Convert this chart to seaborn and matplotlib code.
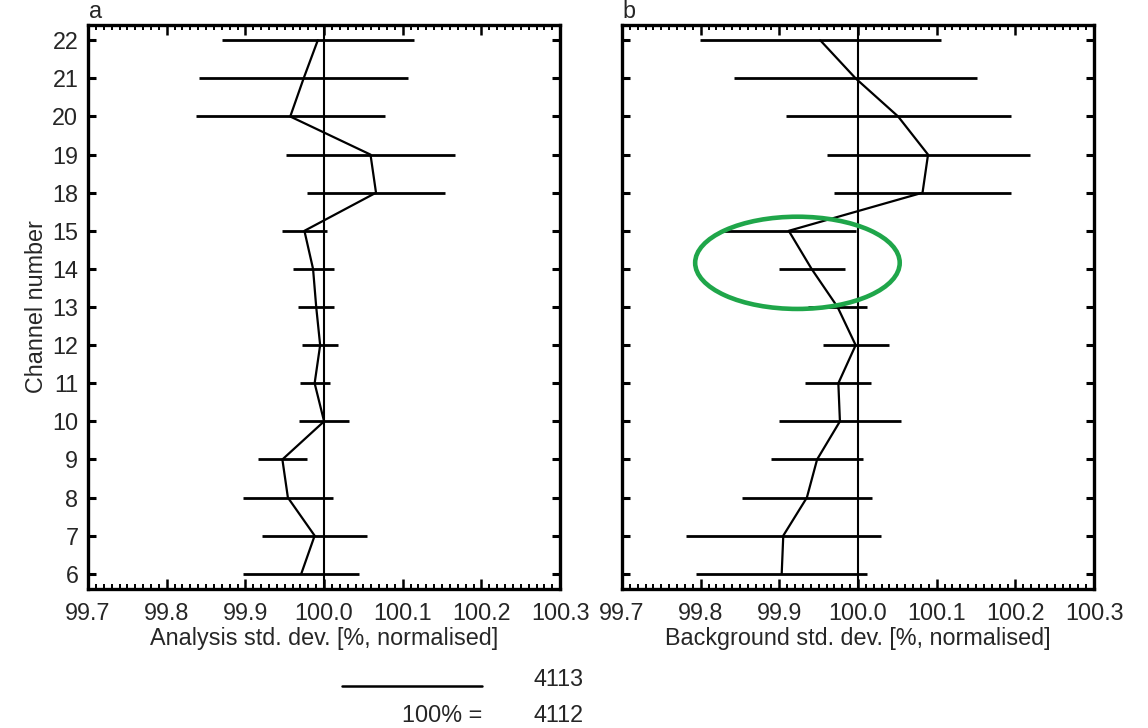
"""Normalised analysis / background std. dev. per channel, two panels."""

import matplotlib

matplotlib.use("Agg")
import matplotlib.pyplot as plt
from matplotlib.lines import Line2D
from matplotlib.patches import Ellipse
from matplotlib.ticker import MultipleLocator
import numpy as np
import pandas as pd
import seaborn as sns

channels = [6, 7, 8, 9, 10, 11, 12, 13, 14, 15, 18, 19, 20, 21, 22]

analysis_mean = [99.971, 99.988, 99.954, 99.947, 100.000, 99.988, 99.995, 99.990,
                 99.986, 99.975, 100.066, 100.059, 99.957, 99.974, 99.992]
analysis_err = [0.074, 0.067, 0.057, 0.031, 0.032, 0.019, 0.023, 0.023,
                0.026, 0.029, 0.088, 0.107, 0.120, 0.133, 0.122]

background_mean = [99.903, 99.905, 99.935, 99.948, 99.977, 99.975, 99.997, 99.974,
                   99.941, 99.912, 100.082, 100.089, 100.051, 99.997, 99.952]
background_err = [0.109, 0.124, 0.083, 0.058, 0.077, 0.042, 0.042, 0.037,
                  0.042, 0.085, 0.112, 0.129, 0.143, 0.154, 0.153]

x_ticks = [99.7, 99.8, 99.9, 100.0, 100.1, 100.2, 100.3]
panel_labels = ["a", "b"]
x_titles = ["Analysis std. dev. [%, normalised]", "Background std. dev. [%, normalised]"]
count_top = "4113"
count_bottom = "4112"

FS = 16.8

sns.set_theme(style="ticks")
plt.rcParams["font.family"] = ["Liberation Sans", "DejaVu Sans"]
plt.rcParams["font.size"] = FS

fig = plt.figure(figsize=(11.48, 7.28), dpi=100)
ax_a = fig.add_axes([0.0767, 0.1909, 0.4112, 0.7747])
ax_b = fig.add_axes([0.5418, 0.1909, 0.4112, 0.7747])

panels = [
    (ax_a, analysis_mean, analysis_err),
    (ax_b, background_mean, background_err),
]

for i, (ax, means, errs) in enumerate(panels):
    df = pd.DataFrame({
        "channel": channels,
        "pos": np.arange(len(channels)),
        "value": means,
        "err": errs,
    })

    ax.errorbar(df["value"], df["pos"], xerr=df["err"], fmt="none",
                ecolor="black", elinewidth=2.0, capsize=0, zorder=3)
    sns.lineplot(data=df, x="value", y="pos", orient="y", sort=False,
                 estimator=None, color="black", linewidth=1.6, ax=ax, zorder=4)
    ax.axvline(100.0, color="black", linewidth=1.5, zorder=2)

    ax.set_xlim(x_ticks[0], x_ticks[-1])
    ax.set_ylim(-0.4, len(channels) - 0.6)
    ax.set_xticks(x_ticks)
    ax.set_xticklabels([f"{t:.1f}" for t in x_ticks])
    ax.xaxis.set_minor_locator(MultipleLocator(0.01))
    ax.set_yticks(df["pos"])
    ax.set_yticklabels([str(c) for c in channels] if i == 0 else [])

    ax.tick_params(axis="x", which="major", direction="in", top=True, bottom=True,
                   length=7.5, width=1.8, pad=9, labelsize=FS, color="black")
    ax.tick_params(axis="x", which="minor", direction="in", top=True, bottom=True,
                   length=3.8, width=1.4, color="black")
    ax.tick_params(axis="y", which="major", direction="in", left=True, right=True,
                   length=6, width=2.2, pad=7, labelsize=FS, color="black")
    for spine in ax.spines.values():
        spine.set_linewidth(2.4)
        spine.set_color("black")
        spine.set_visible(True)

    ax.set_xlabel(x_titles[i], fontsize=FS, labelpad=2)
    ax.set_ylabel("Channel number" if i == 0 else "", fontsize=FS, labelpad=3)
    ax.grid(False)
    ax.text(0.002, 1.013, panel_labels[i], transform=ax.transAxes,
            ha="left", va="baseline", fontsize=FS)

# highlight around channels 13-15 of the background panel
ax_b.add_patch(Ellipse((99.923, 8.16), width=0.26, height=2.42, fill=False,
                       edgecolor="#1fa64a", linewidth=3.3, zorder=6))

# normalisation note below panel a
fig.add_artist(Line2D([342 / 1148, 482 / 1148], [1 - 686 / 728, 1 - 686 / 728],
                      color="black", linewidth=1.8))
fig.text(533 / 1148, 1 - 680 / 728, count_top, ha="left", va="center", fontsize=FS)
fig.text(482 / 1148, 1 - 715 / 728, "100% =", ha="right", va="center", fontsize=FS)
fig.text(533 / 1148, 1 - 715 / 728, count_bottom, ha="left", va="center", fontsize=FS)

fig.savefig("out.png", dpi=100)
plt.close(fig)
